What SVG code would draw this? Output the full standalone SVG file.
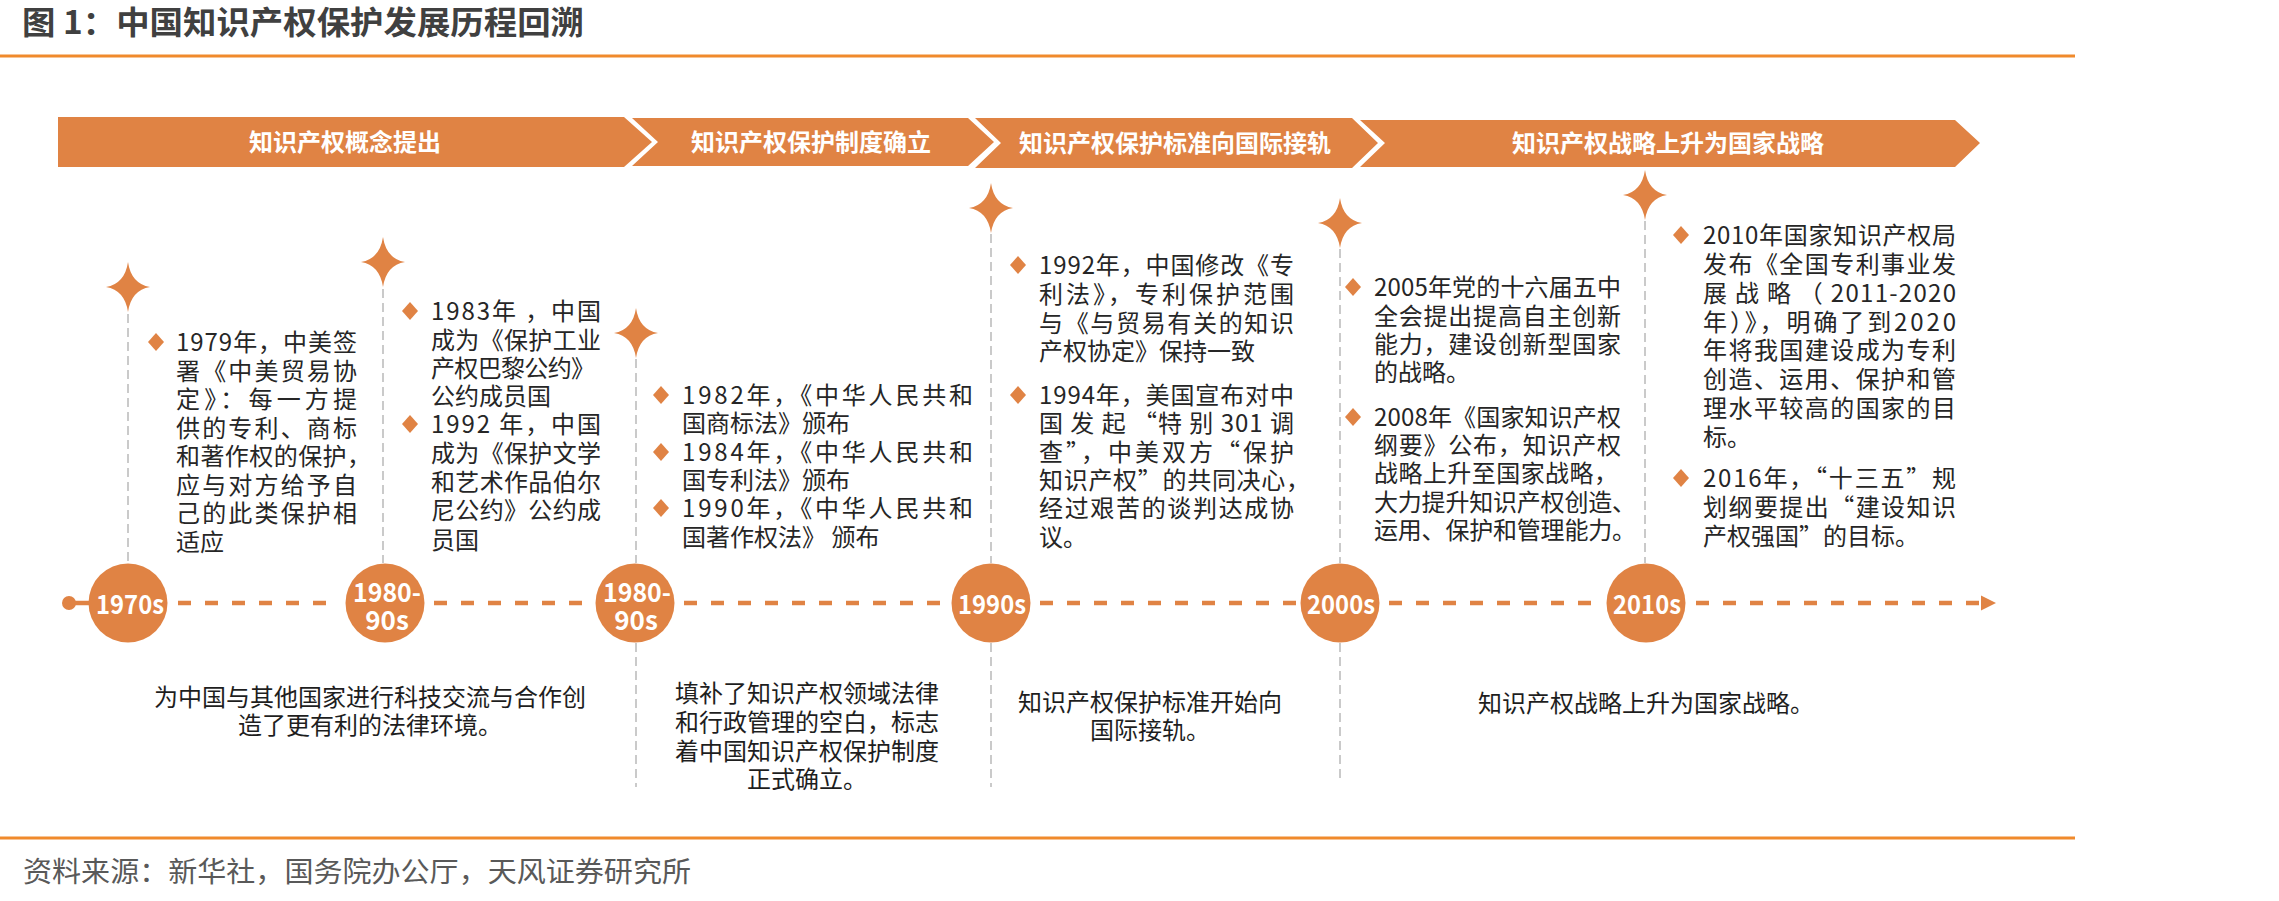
<svg xmlns="http://www.w3.org/2000/svg" xmlns:xlink="http://www.w3.org/1999/xlink" width="2279" height="901" viewBox="0 0 2279 901">
<style>
.t{font-family:"Noto Sans CJK SC","Noto Sans",sans-serif;font-size:24px;fill:#262626;}
.s{font-family:"Noto Sans CJK SC","Noto Sans",sans-serif;font-size:24px;fill:#1e1e1e;text-anchor:middle;}
.band{fill:#E08344;}
.bt{font-family:"Noto Sans CJK SC","Noto Sans",sans-serif;font-size:24px;font-weight:700;fill:#ffffff;text-anchor:middle;}
.yr{font-family:"Noto Sans CJK SC","Noto Sans",sans-serif;font-size:26px;font-weight:700;fill:#ffffff;text-anchor:middle;}
.vd{stroke:#BDBDBD;stroke-width:1.6;stroke-dasharray:9 5;fill:none;}
.tl{stroke:#E08344;stroke-width:4.5;stroke-dasharray:13 14;fill:none;}
.rule{stroke:#F08A2C;stroke-width:3;}
.c{fill:#E08344;}
</style>
<defs>
<path id="star" d="M0,-25 Q3.2,-3.2 22,0 Q3.2,3.2 0,25 Q-3.2,3.2 -22,0 Q-3.2,-3.2 0,-25 Z" fill="#E08344"/>
<path id="dm" d="M0,-9 L8,0 L0,9 L-8,0 Z" fill="#E08344"/>
</defs>
<rect width="2279" height="901" fill="#ffffff"/>

<g id="header">
<text x="22" y="34" font-family="Noto Sans CJK SC,sans-serif" font-size="32" font-weight="700" fill="#404040" textLength="562" lengthAdjust="spacingAndGlyphs">图 1：中国知识产权保护发展历程回溯</text>
<line class="rule" x1="0" y1="56" x2="2075" y2="56"/>
</g>

<g id="phases">
<g id="phase1"><path class="band" d="M58,117 H624 L652,142 L624,167 H58 Z"/><text class="bt" x="345" y="151">知识产权概念提出</text></g>
<g id="phase2"><path class="band" d="M632,118 H968 L994,142 L968,166 H632 L658,142 Z"/><text class="bt" x="811" y="151">知识产权保护制度确立</text></g>
<g id="phase3"><path class="band" d="M975,118 H1352 L1378,143 L1352,168 H975 L1001,143 Z"/><text class="bt" x="1175" y="152">知识产权保护标准向国际接轨</text></g>
<g id="phase4"><path class="band" d="M1360,120 H1955 L1980,143 L1955,167 H1360 L1385,143 Z"/><text class="bt" x="1668" y="152">知识产权战略上升为国家战略</text></g>
</g>

<g id="connectors">
<line class="vd" x1="128" y1="314" x2="128" y2="563"/>
<line class="vd" x1="383" y1="289" x2="383" y2="563"/>
<line class="vd" x1="636" y1="359" x2="636" y2="563"/>
<line class="vd" x1="636" y1="643" x2="636" y2="787"/>
<line class="vd" x1="991" y1="234" x2="991" y2="563"/>
<line class="vd" x1="991" y1="643" x2="991" y2="787"/>
<line class="vd" x1="1340" y1="249" x2="1340" y2="563"/>
<line class="vd" x1="1340" y1="643" x2="1340" y2="783"/>
<line class="vd" x1="1645" y1="221" x2="1645" y2="563"/>
<circle cx="69" cy="603" r="7" fill="#E08344"/>
<line x1="69" y1="603" x2="90" y2="603" stroke="#E08344" stroke-width="4.5"/>
<path class="tl" d="M178,603 H340 M434,603 H590 M684,603 H946 M1040,603 H1296 M1389,603 H1601 M1696,603 H1984"/>
<path d="M1981,595.5 L1996,603 L1981,610.5 Z" fill="#E08344"/>
</g>

<g id="stars">
<use xlink:href="#star" href="#star" x="128" y="287"/>
<use xlink:href="#star" href="#star" x="383" y="262"/>
<use xlink:href="#star" href="#star" x="636" y="333"/>
<use xlink:href="#star" href="#star" x="991" y="208"/>
<use xlink:href="#star" href="#star" x="1340" y="223"/>
<use xlink:href="#star" href="#star" x="1645" y="195"/>
</g>

<g id="node-1970s">
<circle class="c" cx="128" cy="603" r="39.5"/>
<text class="yr" x="130" y="614" textLength="68" lengthAdjust="spacingAndGlyphs">1970s</text>
</g>
<g id="node-1980s-a">
<circle class="c" cx="385" cy="603" r="39.5"/>
<text class="yr"><tspan x="387" y="602" textLength="68" lengthAdjust="spacingAndGlyphs">1980-</tspan><tspan x="387" y="630">90s</tspan></text>
</g>
<g id="node-1980s-b">
<circle class="c" cx="635" cy="603" r="39.5"/>
<text class="yr"><tspan x="637" y="602" textLength="68" lengthAdjust="spacingAndGlyphs">1980-</tspan><tspan x="636" y="630">90s</tspan></text>
</g>
<g id="node-1990s">
<circle class="c" cx="991" cy="603" r="39.5"/>
<text class="yr" x="992" y="614" textLength="68" lengthAdjust="spacingAndGlyphs">1990s</text>
</g>
<g id="node-2000s">
<circle class="c" cx="1340" cy="603" r="39.5"/>
<text class="yr" x="1341" y="614" textLength="68" lengthAdjust="spacingAndGlyphs">2000s</text>
</g>
<g id="node-2010s">
<circle class="c" cx="1646" cy="603" r="39.5"/>
<text class="yr" x="1647" y="614" textLength="68" lengthAdjust="spacingAndGlyphs">2010s</text>
</g>

<g id="col1">
<use xlink:href="#dm" href="#dm" x="156" y="342"/>
<text class="t"><tspan x="176" y="351" textLength="181" lengthAdjust="spacing">1979年，中美签</tspan><tspan x="176" y="379.5" textLength="181" lengthAdjust="spacing">署《中美贸易协</tspan><tspan x="176" y="408" textLength="181" lengthAdjust="spacing">定》：每一方提</tspan><tspan x="176" y="436.5" textLength="181" lengthAdjust="spacing">供的专利、商标</tspan><tspan x="176" y="465" textLength="195" lengthAdjust="spacing">和著作权的保护，</tspan><tspan x="176" y="493.5" textLength="181" lengthAdjust="spacing">应与对方给予自</tspan><tspan x="176" y="522" textLength="181" lengthAdjust="spacing">己的此类保护相</tspan><tspan x="176" y="550.5">适应</tspan></text>
</g>

<g id="col2">
<use xlink:href="#dm" href="#dm" x="410" y="311"/>
<text class="t"><tspan x="431" y="320" textLength="170" lengthAdjust="spacing">1983年 ，中国</tspan><tspan x="431" y="349" textLength="170" lengthAdjust="spacing">成为《保护工业</tspan><tspan x="431" y="377" textLength="164" lengthAdjust="spacing">产权巴黎公约》</tspan><tspan x="431" y="405">公约成员国</tspan></text>
<use xlink:href="#dm" href="#dm" x="410" y="424"/>
<text class="t"><tspan x="431" y="433" textLength="170" lengthAdjust="spacing">1992 年，中国</tspan><tspan x="431" y="462" textLength="170" lengthAdjust="spacing">成为《保护文学</tspan><tspan x="431" y="491" textLength="170" lengthAdjust="spacing">和艺术作品伯尔</tspan><tspan x="431" y="519" textLength="170" lengthAdjust="spacing">尼公约》公约成</tspan><tspan x="431" y="549">员国</tspan></text>
</g>

<g id="col3">
<use xlink:href="#dm" href="#dm" x="661" y="395"/>
<text class="t"><tspan x="682" y="404" textLength="291" lengthAdjust="spacing">1982年，《中华人民共和</tspan><tspan x="682" y="432">国商标法》颁布</tspan></text>
<use xlink:href="#dm" href="#dm" x="661" y="452"/>
<text class="t"><tspan x="682" y="461" textLength="291" lengthAdjust="spacing">1984年，《中华人民共和</tspan><tspan x="682" y="489">国专利法》颁布</tspan></text>
<use xlink:href="#dm" href="#dm" x="661" y="508"/>
<text class="t"><tspan x="682" y="517" textLength="291" lengthAdjust="spacing">1990年，《中华人民共和</tspan><tspan x="682" y="546">国著作权法》 颁布</tspan></text>
</g>

<g id="col4">
<use xlink:href="#dm" href="#dm" x="1018" y="265"/>
<text class="t"><tspan x="1039" y="274" textLength="255" lengthAdjust="spacing">1992年，中国修改《专</tspan><tspan x="1039" y="303" textLength="255" lengthAdjust="spacing">利法》，专利保护范围</tspan><tspan x="1039" y="332" textLength="255" lengthAdjust="spacing">与《与贸易有关的知识</tspan><tspan x="1039" y="360">产权协定》保持一致</tspan></text>
<use xlink:href="#dm" href="#dm" x="1018" y="395"/>
<text class="t"><tspan x="1039" y="404" textLength="255" lengthAdjust="spacing">1994年，美国宣布对中</tspan><tspan x="1039" y="432" textLength="255" lengthAdjust="spacing">国 发 起 “特 别 301 调</tspan><tspan x="1039" y="461" textLength="255" lengthAdjust="spacing">查”，中美双方“保护</tspan><tspan x="1039" y="489" textLength="271" lengthAdjust="spacing">知识产权”的共同决心，</tspan><tspan x="1039" y="517" textLength="255" lengthAdjust="spacing">经过艰苦的谈判达成协</tspan><tspan x="1039" y="546">议。</tspan></text>
</g>

<g id="col5">
<use xlink:href="#dm" href="#dm" x="1353" y="287"/>
<text class="t"><tspan x="1374" y="296" textLength="247" lengthAdjust="spacing">2005年党的十六届五中</tspan><tspan x="1374" y="325" textLength="247" lengthAdjust="spacing">全会提出提高自主创新</tspan><tspan x="1374" y="353" textLength="247" lengthAdjust="spacing">能力，建设创新型国家</tspan><tspan x="1374" y="381">的战略。</tspan></text>
<use xlink:href="#dm" href="#dm" x="1353" y="417"/>
<text class="t"><tspan x="1374" y="426" textLength="247" lengthAdjust="spacing">2008年《国家知识产权</tspan><tspan x="1374" y="454" textLength="247" lengthAdjust="spacing">纲要》公布，知识产权</tspan><tspan x="1374" y="482" textLength="244" lengthAdjust="spacing">战略上升至国家战略，</tspan><tspan x="1374" y="511" textLength="262" lengthAdjust="spacing">大力提升知识产权创造、</tspan><tspan x="1374" y="539" textLength="262" lengthAdjust="spacing">运用、保护和管理能力。</tspan></text>
</g>

<g id="col6">
<use xlink:href="#dm" href="#dm" x="1681" y="235"/>
<text class="t"><tspan x="1703" y="244" textLength="253" lengthAdjust="spacing">2010年国家知识产权局</tspan><tspan x="1703" y="273" textLength="253" lengthAdjust="spacing">发布《全国专利事业发</tspan><tspan x="1703" y="302" textLength="253" lengthAdjust="spacing">展 战 略 （ 2011-2020</tspan><tspan x="1703" y="331" textLength="253" lengthAdjust="spacing">年）》，明确了到2020</tspan><tspan x="1703" y="359" textLength="253" lengthAdjust="spacing">年将我国建设成为专利</tspan><tspan x="1703" y="388" textLength="253" lengthAdjust="spacing">创造、运用、保护和管</tspan><tspan x="1703" y="417" textLength="253" lengthAdjust="spacing">理水平较高的国家的目</tspan><tspan x="1703" y="446">标。</tspan></text>
<use xlink:href="#dm" href="#dm" x="1681" y="478"/>
<text class="t"><tspan x="1703" y="487" textLength="253" lengthAdjust="spacing">2016年，“十三五”规</tspan><tspan x="1703" y="516" textLength="253" lengthAdjust="spacing">划纲要提出“建设知识</tspan><tspan x="1703" y="545">产权强国”的目标。</tspan></text>
</g>

<g id="summaries">
<text class="s"><tspan x="370" y="706">为中国与其他国家进行科技交流与合作创</tspan><tspan x="370" y="734">造了更有利的法律环境。</tspan></text>
<text class="s"><tspan x="807" y="702">填补了知识产权领域法律</tspan><tspan x="807" y="731">和行政管理的空白，标志</tspan><tspan x="807" y="760">着中国知识产权保护制度</tspan><tspan x="807" y="788">正式确立。</tspan></text>
<text class="s"><tspan x="1150" y="711">知识产权保护标准开始向</tspan><tspan x="1150" y="739">国际接轨。</tspan></text>
<text class="s" x="1646" y="712">知识产权战略上升为国家战略。</text>
</g>

<g id="footer">
<line class="rule" x1="0" y1="838" x2="2075" y2="838"/>
<text x="23" y="882" font-family="Noto Sans CJK SC,sans-serif" font-size="28" fill="#595959" textLength="668" lengthAdjust="spacingAndGlyphs">资料来源：新华社，国务院办公厅，天风证券研究所</text>
</g>
</svg>
